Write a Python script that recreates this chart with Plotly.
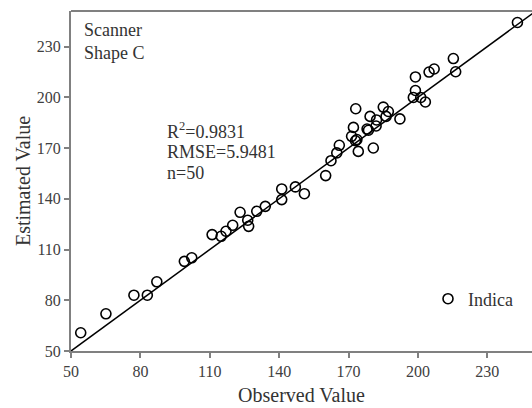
import plotly.graph_objects as go

# Observed vs estimated values (Indica, Scanner, Shape C)
observed = [243.0, 215.3, 216.3, 204.8, 207.0, 198.9, 198.9, 198.0, 201.2, 203.2,
            192.2, 185.0, 187.2, 186.2, 182.1, 178.0, 179.3, 173.1, 172.1, 171.3,
            181.9, 173.0, 174.2, 180.7, 166.0, 164.9, 162.4, 160.1, 150.9, 147.0,
            141.1, 141.1, 134.0, 130.3, 123.1, 126.4, 126.8, 119.9, 117.0, 114.9,
            111.0, 102.2, 99.0, 87.1, 83.0, 77.2, 65.1, 54.2, 173.6, 178.6]
estimated = [244.2, 222.9, 215.1, 214.9, 216.7, 212.0, 204.0, 199.9, 199.9, 197.2,
             187.2, 194.2, 191.6, 188.7, 186.6, 181.2, 188.7, 193.2, 182.2, 176.9,
             183.0, 174.3, 168.0, 170.0, 171.6, 167.1, 162.5, 153.7, 143.0, 147.0,
             145.8, 139.5, 135.5, 132.6, 132.0, 127.3, 123.7, 124.3, 120.8, 117.8,
             118.8, 105.1, 103.0, 90.9, 83.0, 83.0, 72.0, 60.8, 175.0, 180.5]

ref_line = [50, 250]
tick_vals = [50, 80, 110, 140, 170, 200, 230]
stats_lines = ["R<sup>2</sup>=0.9831", "RMSE=5.9481", "n=50"]
panel_lines = ["Scanner", "Shape C"]

FONT = "Liberation Serif"
AXIS_COLOR = "#808080"

fig = go.Figure()
fig.add_trace(go.Scatter(
    x=ref_line, y=ref_line, mode="lines",
    line=dict(color="black", width=1.5), showlegend=False, hoverinfo="skip"))
fig.add_trace(go.Scatter(
    x=observed, y=estimated, mode="markers", name="Indica",
    marker=dict(symbol="circle-open", size=10, color="black",
                line=dict(width=1.6, color="black"))))

axis_common = dict(
    showgrid=False, zeroline=False, showline=True, linecolor=AXIS_COLOR, linewidth=2,
    ticks="outside", ticklen=5, tickwidth=1.5, tickcolor=AXIS_COLOR,
    tickvals=tick_vals, tickfont=dict(family=FONT, size=16, color="#404040"),
    title_font=dict(family=FONT, size=20, color="#333333"))

fig.update_xaxes(range=[50, 249.3], title_text="Observed Value", title_standoff=9, **axis_common)
fig.update_yaxes(range=[50, 251], title_text="Estimated Value", title_standoff=1, **axis_common)

# top frame line
fig.add_shape(type="line", xref="paper", yref="paper", x0=0, x1=1, y0=1, y1=1,
              line=dict(color=AXIS_COLOR, width=2))

for i, t in enumerate(panel_lines):
    fig.add_annotation(text=t, xref="paper", yref="y", x=(82 - 71) / 461,
                       y=250 - (29 + 23 * i - 12) / 1.692, xanchor="left", yanchor="middle",
                       showarrow=False, font=dict(family=FONT, size=18, color="#333333"))
for i, t in enumerate(stats_lines):
    fig.add_annotation(text=t, xref="paper", yref="y", x=(165 - 71) / 461,
                       y=250 - (130 + 21 * i - 12) / 1.692, xanchor="left", yanchor="middle",
                       showarrow=False, font=dict(family=FONT, size=18, color="#333333"))

fig.update_layout(
    width=532, height=408,
    margin=dict(l=71, r=0, t=11, b=57),
    plot_bgcolor="white", paper_bgcolor="white",
    font=dict(family=FONT, color="#333333"),
    legend=dict(x=(428 - 71) / 461, y=(351 - 299) / 340, xanchor="left", yanchor="middle",
                bgcolor="rgba(0,0,0,0)", font=dict(family=FONT, size=18, color="#333333")),
)

fig.write_html("out.html")
